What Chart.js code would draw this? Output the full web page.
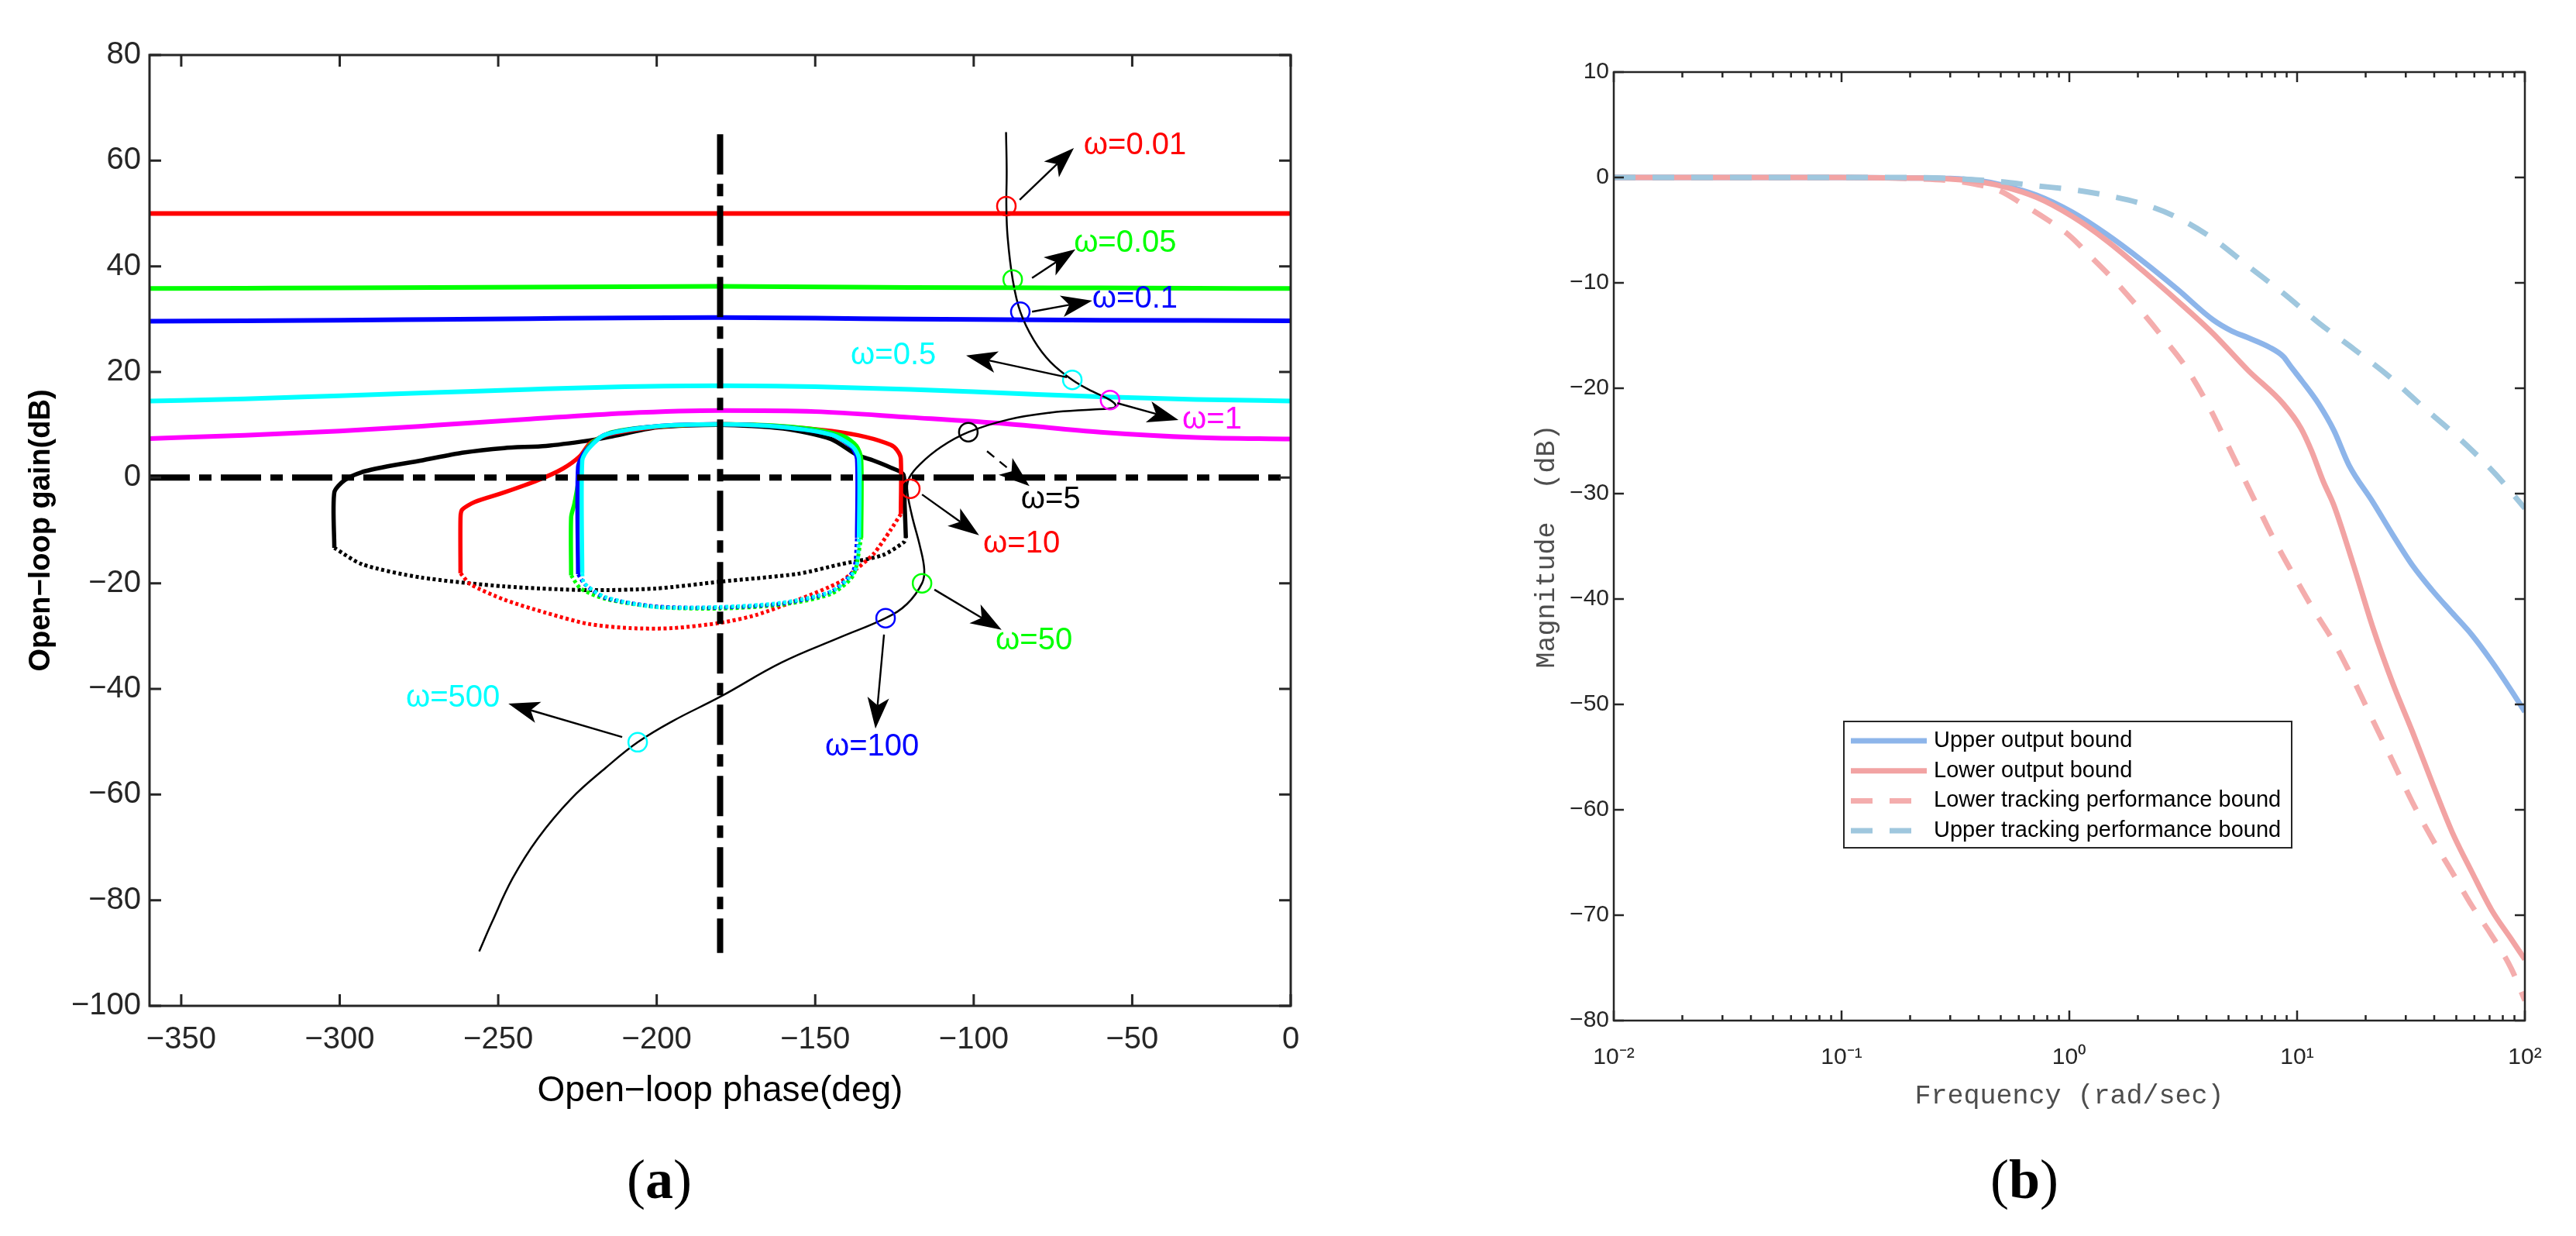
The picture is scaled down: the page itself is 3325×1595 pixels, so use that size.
<!DOCTYPE html>
<html>
<head>
<meta charset="utf-8">
<title>Nichols bounds and tracking bounds</title>
<script src="https://cdn.jsdelivr.net/npm/chart.js@4.4.1/dist/chart.umd.min.js"></script>
<style>
  body { margin: 0; background: #fff; }
  #fig { position: relative; width: 3325px; height: 1595px; overflow: hidden; background: #fff; }
  .panel { position: absolute; top: 0; height: 1595px; }
  #panelA { left: 0; width: 1800px; }
  #panelB { left: 1800px; width: 1525px; }
  .cap { position: absolute; transform: translate(-50%, -50%); line-height: 1;
         font-family: "Liberation Serif", "DejaVu Serif", serif; font-size: 72px; color: #000; }
</style>
</head>
<body>
<div id="fig">
  <div class="panel" id="panelA"><canvas id="nichols"></canvas></div>
  <div class="panel" id="panelB"><canvas id="bode"></canvas></div>
  <div class="cap" style="left:851px;top:1522px">(<b>a</b>)</div>
  <div class="cap" style="left:2613px;top:1522px">(<b>b</b>)</div>
</div>
<script>
// ---------- (a) Nichols chart ----------
var phaseTicks = [-350, -300, -250, -200, -150, -100, -50, 0];
var gainTicks = [-100, -80, -60, -40, -20, 0, 20, 40, 60, 80];

// open bounds (w = 0.01 ... 1), all sampled on one phase grid
var boundPhase = [-360, -330, -300, -270, -240, -210, -180, -150, -120, -90, -60, -30, 0];
var bound001 = [50, 50, 50, 50, 50, 50, 50, 50, 50, 50, 50, 50, 50];
var bound005 = [35.8, 35.85, 35.9, 36.0, 36.05, 36.15, 36.2, 36.1, 36.0, 35.95, 35.9, 35.85, 35.8];
var bound01 = [29.6, 29.7, 29.8, 29.95, 30.1, 30.25, 30.3, 30.2, 30.0, 29.9, 29.8, 29.75, 29.7];
var bound05 = [14.5, 14.9, 15.5, 16.1, 16.7, 17.2, 17.4, 17.2, 16.7, 16.0, 15.3, 14.8, 14.5];
var bound1 = [7.4, 8.0, 8.8, 9.9, 11.1, 12.2, 12.7, 12.5, 11.4, 10.2, 8.6, 7.6, 7.3];

// closed bounds: solid upper part and dotted lower part
var w5TopPhase = [-121.4, -121.8, -122.2, -126.2, -131.5, -136.8, -145, -160, -180, -200, -215, -221.6, -234.9, -248.1, -261.4, -274.6, -285.2, -293.2, -298.5, -301.7, -301.7];
var w5TopGain = [-11.4, -5, 0.6, 1.9, 3.2, 4.3, 7.3, 9.3, 10, 9.5, 7.7, 7.0, 6.0, 5.6, 4.7, 3.2, 2.1, 1.0, -0.5, -2.8, -13.3];
var w5LowPhase = [-301.7, -293, -274.5, -248, -221.6, -200.4, -180, -155.3, -142, -128.8, -122, -121.4];
var w5LowGain = [-13.3, -16.4, -18.9, -20.6, -21.3, -21.0, -19.7, -18.2, -16.4, -14.7, -12.2, -11.4];

var w10TopPhase = [-123, -123, -124.2, -126.2, -134.1, -144.7, -160.6, -180, -200, -215, -221, -224.3, -229.6, -237.5, -248.1, -257.4, -261.4, -261.9, -261.9];
var w10TopGain = [-6.9, 3.6, 5.2, 6.2, 7.7, 8.8, 9.7, 10.1, 9.6, 8.2, 6.5, 4.0, 1.7, -0.5, -2.8, -4.6, -6.1, -7.6, -18.1];
var w10LowPhase = [-261.9, -258.7, -248.1, -234.9, -221.6, -208.3, -195.1, -180, -168.6, -155.3, -142, -136.8, -131.5, -126.2, -123];
var w10LowGain = [-18.1, -20.2, -23.1, -25.6, -27.7, -28.5, -28.5, -27.5, -26, -23.1, -19.7, -17.2, -14.4, -9.9, -6.9];

var w50TopPhase = [-135.5, -135.5, -137, -141, -150, -165, -180, -200, -214, -220, -223.5, -224.5, -226, -227, -227];
var w50TopGain = [-11.4, 3.6, 6.0, 7.8, 9.1, 9.9, 10.1, 9.7, 8.6, 6.8, 4.0, 0, -5, -7.5, -18.5];
var w50LowPhase = [-227, -224, -216, -200, -180, -160, -145, -138, -135.5];
var w50LowGain = [-18.5, -21, -23, -24.5, -24.8, -24, -22, -18.5, -11.4];

var w100TopPhase = [-136.8, -136.8, -138.5, -144.7, -160.6, -180, -200.4, -216.3, -222.5, -224.8, -224.8];
var w100TopGain = [-11.4, 3.5, 5.8, 8.1, 9.6, 10.1, 9.7, 8.1, 5.0, 2.0, -18.3];
var w100LowPhase = [-224.8, -222.5, -216, -200, -180, -160, -145, -138, -136.8];
var w100LowGain = [-18.3, -20.3, -22.8, -24.4, -24.6, -23.8, -21.6, -17.6, -11.4];

var w500TopPhase = [-136.2, -136.2, -138.1, -144.7, -160.6, -180, -200.4, -216.3, -221.5, -223.5, -223.5];
var w500TopGain = [-11.4, 3.6, 5.8, 8.1, 9.6, 10.1, 9.7, 8.1, 5.5, 3.2, -18.1];
var w500LowPhase = [-223.5, -222.9, -216.3, -200.4, -180, -160.6, -144.7, -137.3, -136.2];
var w500LowGain = [-18.1, -20, -22.6, -24.5, -24.5, -23.7, -21.5, -17.4, -11.4];

// nominal open loop L(jw)
var loopPhase = [-89.8, -89.6, -89.7, -89.3, -87.7, -85.3, -81, -75.8, -68.9, -62.5, -57, -55.2, -57, -62.5, -75.8, -89, -101.7, -110.3, -117, -120.3, -121, -119.6, -117, -115.6, -116.3, -121, -127.8, -142, -160.6, -180, -195, -206, -216, -227, -237.5, -245.5, -252, -256];
var loopGain = [65.4, 58, 51.4, 45.5, 37.5, 31.4, 26, 21.9, 18.5, 16.3, 14.7, 13.6, 13.1, 12.9, 12.3, 11.0, 8.6, 5.8, 2.5, 0, -2.1, -6.9, -12.9, -17.4, -20, -23.9, -26.6, -30.2, -35, -41.5, -46.1, -50.1, -54.9, -60.8, -68.3, -75.9, -84.2, -89.7];

// critical lines
var critPhase = [-180, -180];
var critGain = [65, -90];
var zeroPhase = [-360, 0];
var zeroGain = [0, 0];

// frequency markers on L(jw), their arrows and labels
var markerFreq = ["0.01", "0.05", "0.1", "0.5", "1", "5", "10", "50", "100", "500"];
var markerPhase = [-89.7, -87.7, -85.3, -68.9, -57, -101.7, -120, -116.3, -127.8, -206];
var markerGain = [51.4, 37.5, 31.4, 18.5, 14.7, 8.6, -2.1, -20, -26.6, -50.1];
var arrowFromPhase = [-85.5, -81.6, -81.6, -70.6, -54.7, -95.8, -116.3, -112.4, -128.3, -210.9];
var arrowFromGain = [52.6, 37.8, 31.4, 19.0, 14.1, 5.0, -3.2, -21.2, -29.7, -49.1];
var arrowToPhase = [-68.4, -67.9, -62.6, -102.4, -35.4, -82.4, -98.3, -91.2, -131.0, -246.8];
var arrowToGain = [62.4, 43.2, 33.5, 23.1, 10.9, -1.6, -10.9, -28.8, -47.5, -42.8];
var labelPhase = [-65.3, -68.4, -62.6, -138.8, -34.2, -85.1, -97.0, -93.1, -146.9, -279.1];
var labelGain = [62.8, 44.4, 33.8, 23.1, 10.9, -4.2, -12.6, -30.9, -51.0, -41.8];

// ---------- (b) output / tracking bounds ----------
var freqTicks = [0.01, 0.1, 1, 10, 100];
var magTicks = [-80, -70, -60, -50, -40, -30, -20, -10, 0, 10];

var upperOutFreq = [0.01, 0.05, 0.1, 0.2, 0.3, 0.4, 0.5, 0.72, 1.03, 1.46, 2.09, 2.98, 4.27, 5.2, 6.09, 7.55, 8.71, 9.35, 10.5, 12.45, 14.5, 16.9, 21.5, 26.3, 32.1, 39.3, 47.9, 58.5, 71.4, 87.3, 100];
var upperOutMag = [0, 0, 0, -0.05, -0.1, -0.3, -0.7, -1.7, -3.3, -5.4, -7.9, -10.6, -13.5, -14.6, -15.2, -16.1, -17.0, -17.9, -19.3, -21.5, -24, -27.3, -30.8, -33.9, -36.8, -39.2, -41.3, -43.4, -45.9, -48.7, -50.7];

var lowerOutFreq = [0.01, 0.1, 0.2, 0.3, 0.4, 0.5, 0.72, 1.03, 1.46, 2.09, 2.98, 4.27, 6.09, 8.71, 10.4, 11.6, 13.0, 14.5, 17.7, 21.5, 26.3, 32.1, 39.3, 47.9, 58.5, 71.4, 87.3, 100];
var lowerOutMag = [0, 0, -0.05, -0.15, -0.4, -0.8, -1.9, -3.7, -6.0, -8.8, -11.7, -14.8, -18.3, -21.5, -23.8, -26.0, -28.8, -31.1, -36.8, -42.7, -48, -52.6, -57.5, -62.1, -65.9, -69.5, -72.3, -74.2];

var lowerTrackFreq = [0.01, 0.1, 0.2, 0.3, 0.4, 0.5, 0.62, 0.8, 1.0, 1.24, 1.58, 2.0, 2.6, 3.2, 4.0, 5.2, 6.5, 7.9, 9.7, 11.8, 14.5, 17.7, 21.5, 26.3, 32.1, 39.3, 47.9, 58.5, 71.4, 87.3, 100];
var lowerTrackMag = [0, 0, -0.1, -0.3, -0.7, -1.3, -2.5, -4.0, -5.5, -7.5, -9.8, -12.3, -15.3, -17.8, -21.3, -26.3, -30.6, -34.3, -37.8, -41, -44.1, -47.7, -51.5, -55.4, -59.3, -62.8, -65.9, -69.1, -71.9, -75.1, -78.1];

var upperTrackFreq = [0.01, 0.1, 0.2, 0.35, 0.5, 0.72, 1.03, 1.46, 2.09, 2.98, 4.27, 6.09, 8.71, 12.45, 17.8, 25.4, 36.3, 51.8, 74, 100];
var upperTrackMag = [0, 0, 0, -0.16, -0.4, -0.8, -1.15, -1.7, -2.5, -3.8, -5.8, -8.4, -11.0, -13.8, -16.3, -18.9, -21.9, -24.8, -28.1, -31.4];

// ---------- styles ----------
var FONT = '"Liberation Sans", Arial, Helvetica, sans-serif';
var MONO = '"Liberation Mono", "Courier New", "DejaVu Sans Mono", monospace';
var AXIS = "#262626";
var markerColor = ["#ff0000", "#00ff00", "#0000ff", "#00ffff", "#ff00ff", "#000000", "#ff0000", "#00ff00", "#0000ff", "#00ffff"];

function pts(xs, ys) {
  return xs.map(function (x, i) { return { x: x, y: ys[i] }; });
}

function minus(v) {
  return String(v).replace("-", "\u2212");
}

var SUP = { "-": "\u207b", "0": "\u2070", "1": "\u00b9", "2": "\u00b2" };
function powerLabel(v) {
  var e = Math.log10(v);
  if (Math.abs(e - Math.round(e)) > 1e-6) return "";
  return "10" + String(Math.round(e)).split("").map(function (c) { return SUP[c]; }).join("");
}

// box frame with inward ticks on all four sides (MATLAB look)
var boxTicks = {
  id: "boxTicks",
  afterDraw: function (chart, args, o) {
    var ctx = chart.ctx, a = chart.chartArea, xs = chart.scales.x, ys = chart.scales.y;
    ctx.save();
    ctx.strokeStyle = AXIS;
    ctx.lineWidth = o.tickWidth;
    ctx.beginPath();
    xs.ticks.forEach(function (t) {
      var px = xs.getPixelForValue(t.value);
      var len = o.len;
      if (o.logX && powerLabel(t.value) === "") len = o.minorLen;
      ctx.moveTo(px, a.bottom); ctx.lineTo(px, a.bottom - len);
      ctx.moveTo(px, a.top); ctx.lineTo(px, a.top + len);
    });
    ys.ticks.forEach(function (t) {
      var py = ys.getPixelForValue(t.value);
      ctx.moveTo(a.left, py); ctx.lineTo(a.left + o.len, py);
      ctx.moveTo(a.right, py); ctx.lineTo(a.right - o.len, py);
    });
    ctx.stroke();
    ctx.lineWidth = o.frameWidth;
    ctx.strokeRect(a.left, a.top, a.right - a.left, a.bottom - a.top);
    ctx.restore();
  }
};

// arrows and w= labels of panel (a)
var freqNotes = {
  id: "freqNotes",
  afterDatasetsDraw: function (chart, args, o) {
    var ctx = chart.ctx, xs = chart.scales.x, ys = chart.scales.y;
    ctx.save();
    markerFreq.forEach(function (f, i) {
      var x0 = xs.getPixelForValue(arrowFromPhase[i]), y0 = ys.getPixelForValue(arrowFromGain[i]);
      var x1 = xs.getPixelForValue(arrowToPhase[i]), y1 = ys.getPixelForValue(arrowToGain[i]);
      var d = Math.hypot(x1 - x0, y1 - y0), ux = (x1 - x0) / d, uy = (y1 - y0) / d;
      var nx = -uy, ny = ux;
      var L = o.headLength, W = o.headWidth, N = o.notch;
      ctx.strokeStyle = "#000";
      ctx.fillStyle = "#000";
      ctx.lineWidth = o.lineWidth;
      ctx.setLineDash(f === "5" ? [12, 9] : []);
      ctx.beginPath();
      ctx.moveTo(x0, y0);
      ctx.lineTo(x1 - ux * (L - N), y1 - uy * (L - N));
      ctx.stroke();
      ctx.setLineDash([]);
      ctx.beginPath();
      ctx.moveTo(x1, y1);
      ctx.lineTo(x1 - ux * L + nx * W, y1 - uy * L + ny * W);
      ctx.lineTo(x1 - ux * (L - N), y1 - uy * (L - N));
      ctx.lineTo(x1 - ux * L - nx * W, y1 - uy * L - ny * W);
      ctx.closePath();
      ctx.fill();

      ctx.font = o.fontSize + "px " + FONT;
      ctx.textAlign = "left";
      ctx.textBaseline = "middle";
      ctx.fillStyle = markerColor[i];
      ctx.fillText("\u03c9=" + f, xs.getPixelForValue(labelPhase[i]), ys.getPixelForValue(labelGain[i]));
    });
    ctx.restore();
  }
};

// legend box of panel (b)
var boundLegend = {
  id: "boundLegend",
  afterDraw: function (chart, args, o) {
    var ctx = chart.ctx, a = chart.chartArea;
    var x = a.left + o.dx, y = a.top + o.dy;
    ctx.save();
    ctx.fillStyle = "#fff";
    ctx.fillRect(x, y, o.w, o.h);
    ctx.strokeStyle = AXIS;
    ctx.lineWidth = 2;
    ctx.strokeRect(x, y, o.w, o.h);
    o.order.forEach(function (idx, k) {
      var ds = chart.data.datasets[idx];
      var cy = y + o.first + k * o.step;
      ctx.strokeStyle = ds.borderColor;
      ctx.lineWidth = ds.borderWidth;
      ctx.setLineDash(ds.borderDash || []);
      ctx.beginPath();
      ctx.moveTo(x + o.lineStart, cy);
      ctx.lineTo(x + o.lineEnd, cy);
      ctx.stroke();
      ctx.setLineDash([]);
      ctx.fillStyle = "#000";
      ctx.font = o.fontSize + "px " + FONT;
      ctx.textAlign = "left";
      ctx.textBaseline = "middle";
      ctx.fillText(ds.label, x + o.textStart, cy);
    });
    ctx.restore();
  }
};

function solid(xs, ys, color) {
  return { data: pts(xs, ys), borderColor: color, borderWidth: 5.5, tension: 0.25 };
}
function dotted(xs, ys, color) {
  return { data: pts(xs, ys), borderColor: color, borderWidth: 5, borderDash: [4, 3.5], tension: 0.25 };
}

function drawNichols() {
  var dashDot = [52, 12, 16, 12];
  var datasets = [
    { data: pts(markerPhase, markerGain), showLine: false, pointRadius: 12, pointBorderWidth: 2.5,
      pointBorderColor: markerColor, pointBackgroundColor: "rgba(0,0,0,0)" },
    { data: pts(loopPhase, loopGain), borderColor: "#000", borderWidth: 2.5, tension: 0.4 },
    { data: pts(critPhase, critGain), borderColor: "#000", borderWidth: 8, borderDash: dashDot },
    { data: pts(zeroPhase, zeroGain), borderColor: "#000", borderWidth: 8, borderDash: dashDot },
    solid(w500TopPhase, w500TopGain, "#00ffff"),
    dotted(w500LowPhase, w500LowGain, "#00ffff"),
    solid(w100TopPhase, w100TopGain, "#0000ff"),
    dotted(w100LowPhase, w100LowGain, "#0000ff"),
    solid(w50TopPhase, w50TopGain, "#00ff00"),
    dotted(w50LowPhase, w50LowGain, "#00ff00"),
    solid(w10TopPhase, w10TopGain, "#ff0000"),
    dotted(w10LowPhase, w10LowGain, "#ff0000"),
    solid(w5TopPhase, w5TopGain, "#000000"),
    dotted(w5LowPhase, w5LowGain, "#000000"),
    { data: pts(boundPhase, bound1), borderColor: "#ff00ff", borderWidth: 6, cubicInterpolationMode: "monotone" },
    { data: pts(boundPhase, bound05), borderColor: "#00ffff", borderWidth: 6, cubicInterpolationMode: "monotone" },
    { data: pts(boundPhase, bound01), borderColor: "#0000ff", borderWidth: 6, cubicInterpolationMode: "monotone" },
    { data: pts(boundPhase, bound005), borderColor: "#00ff00", borderWidth: 6, cubicInterpolationMode: "monotone" },
    { data: pts(boundPhase, bound001), borderColor: "#ff0000", borderWidth: 6 }
  ];

  new Chart(document.getElementById("nichols"), {
    type: "line",
    data: { datasets: datasets },
    options: {
      responsive: true,
      maintainAspectRatio: false,
      animation: false,
      events: [],
      layout: { padding: { left: 0, top: 71, right: 134, bottom: 0 } },
      elements: { point: { radius: 0 }, line: { borderCapStyle: "butt", fill: false } },
      plugins: {
        legend: { display: false },
        tooltip: { enabled: false },
        boxTicks: { len: 15, minorLen: 15, tickWidth: 3, frameWidth: 3, logX: false },
        freqNotes: { headLength: 40, headWidth: 14, notch: 10, lineWidth: 2.4, fontSize: 40 }
      },
      scales: {
        x: {
          type: "linear", min: -360, max: 0,
          grid: { display: false, drawTicks: false },
          border: { display: false },
          afterBuildTicks: function (s) { s.ticks = phaseTicks.map(function (v) { return { value: v }; }); },
          afterFit: function (s) { s.height = 297; },
          ticks: { autoSkip: false, maxRotation: 0, padding: 20, color: AXIS,
                   font: { family: FONT, size: 40 }, callback: minus },
          title: { display: true, text: "Open\u2212loop phase(deg)", color: "#000",
                   font: { family: FONT, size: 46 }, padding: { top: 0, bottom: 159 } }
        },
        y: {
          type: "linear", min: -100, max: 80,
          grid: { display: false, drawTicks: false },
          border: { display: false },
          afterBuildTicks: function (s) { s.ticks = gainTicks.map(function (v) { return { value: v }; }); },
          afterFit: function (s) { s.width = 193; },
          ticks: { autoSkip: false, padding: 11, color: AXIS,
                   font: { family: FONT, size: 40 }, callback: minus },
          title: { display: true, text: "Open\u2212loop gain(dB)", color: "#000",
                   font: { family: FONT, size: 38, weight: "bold" }, padding: { top: 31, bottom: 0 } }
        }
      }
    },
    plugins: [freqNotes, boxTicks]
  });
}

function drawBode() {
  var dash = [28, 22];
  var decades = [0.01, 0.1, 1, 10];
  var allFreqTicks = [];
  decades.forEach(function (d) {
    for (var m = 1; m <= 9; m++) allFreqTicks.push(d * m);
  });
  allFreqTicks.push(freqTicks[freqTicks.length - 1]);

  new Chart(document.getElementById("bode"), {
    type: "line",
    data: {
      datasets: [
        { label: "Upper tracking performance bound", data: pts(upperTrackFreq, upperTrackMag),
          borderColor: "#9fc7de", borderWidth: 7, borderDash: dash },
        { label: "Lower output bound", data: pts(lowerOutFreq, lowerOutMag),
          borderColor: "#f2a3a3", borderWidth: 7 },
        { label: "Upper output bound", data: pts(upperOutFreq, upperOutMag),
          borderColor: "#8db5ea", borderWidth: 7 },
        { label: "Lower tracking performance bound", data: pts(lowerTrackFreq, lowerTrackMag),
          borderColor: "#f4adad", borderWidth: 7, borderDash: dash }
      ]
    },
    options: {
      responsive: true,
      maintainAspectRatio: false,
      animation: false,
      events: [],
      layout: { padding: { left: 0, top: 93, right: 66, bottom: 0 } },
      elements: { point: { radius: 0 }, line: { cubicInterpolationMode: "monotone", borderCapStyle: "butt", fill: false } },
      plugins: {
        legend: { display: false },
        tooltip: { enabled: false },
        boxTicks: { len: 13, minorLen: 7, tickWidth: 2.5, frameWidth: 2.5, logX: true },
        boundLegend: { dx: 297, dy: 838, w: 578, h: 163, first: 25, step: 38.7,
                       lineStart: 9, lineEnd: 107, textStart: 116, fontSize: 29, order: [2, 1, 3, 0] }
      },
      scales: {
        x: {
          type: "logarithmic", min: 0.01, max: 100,
          grid: { display: false, drawTicks: false },
          border: { display: false },
          afterBuildTicks: function (s) { s.ticks = allFreqTicks.map(function (v) { return { value: v }; }); },
          afterFit: function (s) { s.height = 278; },
          ticks: { autoSkip: false, maxRotation: 0, padding: 30, color: AXIS,
                   font: { family: FONT, size: 30 }, callback: powerLabel },
          title: { display: true, text: "Frequency (rad/sec)", color: "#4d4d4d",
                   font: { family: MONO, size: 35 }, padding: { top: 0, bottom: 159 } }
        },
        y: {
          type: "linear", min: -80, max: 10,
          grid: { display: false, drawTicks: false },
          border: { display: false },
          afterBuildTicks: function (s) { s.ticks = magTicks.map(function (v) { return { value: v }; }); },
          afterFit: function (s) { s.width = 283; },
          ticks: { autoSkip: false, padding: 6, color: AXIS,
                   font: { family: FONT, size: 30 }, callback: minus },
          title: { display: true, text: "Magnitude  (dB)", color: "#4d4d4d",
                   font: { family: MONO, size: 35 }, padding: { top: 176, bottom: 0 } }
        }
      }
    },
    plugins: [boxTicks, boundLegend]
  });
}

drawNichols();
drawBode();
</script>
</body>
</html>
